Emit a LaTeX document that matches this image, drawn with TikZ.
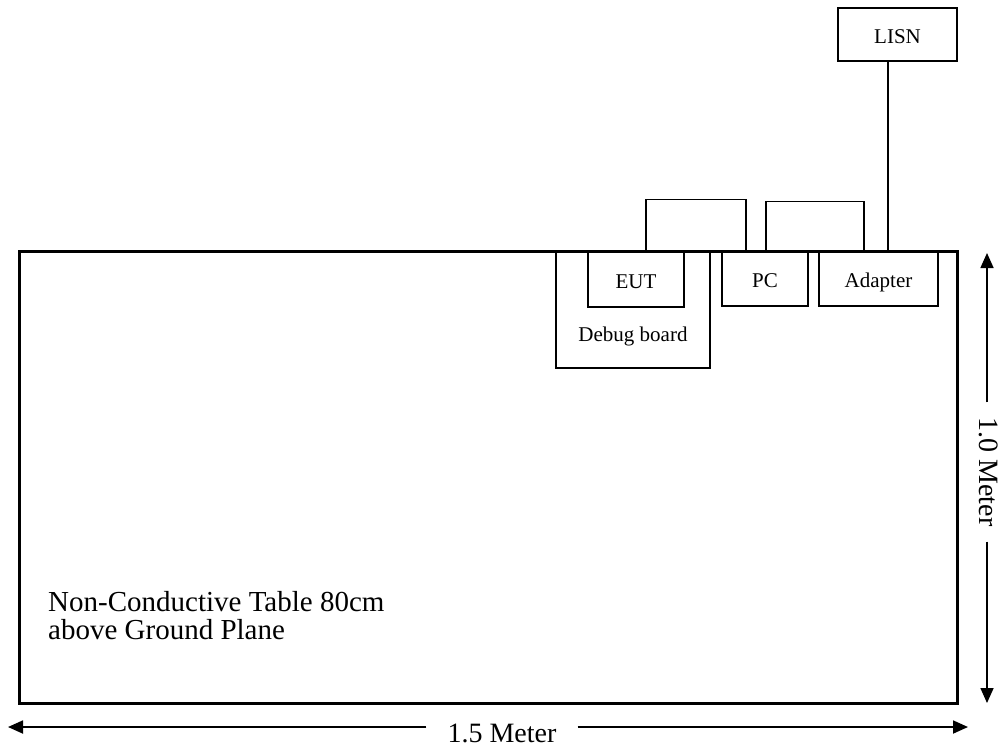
\documentclass[tikz,border=0pt]{standalone}
\usepackage{fontspec}
\setmainfont{Liberation Serif}
\usetikzlibrary{arrows.meta,positioning}
\begin{document}
\begin{tikzpicture}[x=1pt, y=1pt, line join=miter, >={Triangle[length=15pt,width=13pt]},
  box/.style={draw, line width=1.2pt, inner sep=0pt, text height=18pt, text depth=0pt, font=\fontsize{21}{25}\selectfont},
  big/.style={font=\fontsize{29}{28}\selectfont},
  dim/.style={font=\fontsize{28}{28}\selectfont}]
  \useasboundingbox (0,0) rectangle (1003,-748);
  % table
  \node[draw, line width=3pt, minimum width=938, minimum height=452, inner sep=0pt] (table) at (488,-477) {};
  \node[big, anchor=base west, align=left, inner sep=0pt] (tabletxt) at (48,-639) {Non-Conductive Table 80cm\\above Ground Plane};
  % equipment
  \node[box, minimum width=154, minimum height=117] (debug) at (633,-309.5) {};
  \node[font=\fontsize{21}{25}\selectfont, inner sep=0pt] (debugtxt) at (633,-336) {Debug board};
  \node[box, minimum width=96, minimum height=56] (eut) at (636,-279) {EUT};
  \node[box, minimum width=86, minimum height=55] (pc) at (765,-278.5) {PC};
  \node[box, minimum width=119, minimum height=55] (adapter) at (878.5,-278.5) {Adapter};
  \node[box, minimum width=119, minimum height=53] (lisn) at (897.5,-34.5) {LISN};
  % cables
  \draw[line width=1.2pt] ([xshift=10]eut.north) -- ++(0,51) -| ([xshift=-19]pc.north);
  \draw[line width=1.2pt] ([xshift=1]pc.north) -- ++(0,49) -| ([xshift=-14.5]adapter.north);
  \draw[line width=1.2pt] ([xshift=9.5]adapter.north) -- ([xshift=9.5]adapter.north |- lisn.south);
  % dimensions
  \coordinate (wl) at (8,-727);
  \coordinate (wr) at (968,-727);
  \node[dim, inner xsep=21pt, inner ysep=0pt] (wlbl) at (502,-733) {1.5 Meter};
  \draw[->, line width=1.8pt] (wlbl.west |- wl) -- (wl);
  \draw[->, line width=1.8pt] (wlbl.east |- wr) -- (wr);
  \coordinate (ht) at (987,-253);
  \coordinate (hb) at (987,-703);
  \node[dim, rotate=-90, inner xsep=15pt, inner ysep=0pt] (hlbl) at (989,-472) {1.0 Meter};
  \draw[->, line width=1.6pt] (ht |- hlbl.west) -- (ht);
  \draw[->, line width=1.6pt] (hb |- hlbl.east) -- (hb);
\end{tikzpicture}
\end{document}
